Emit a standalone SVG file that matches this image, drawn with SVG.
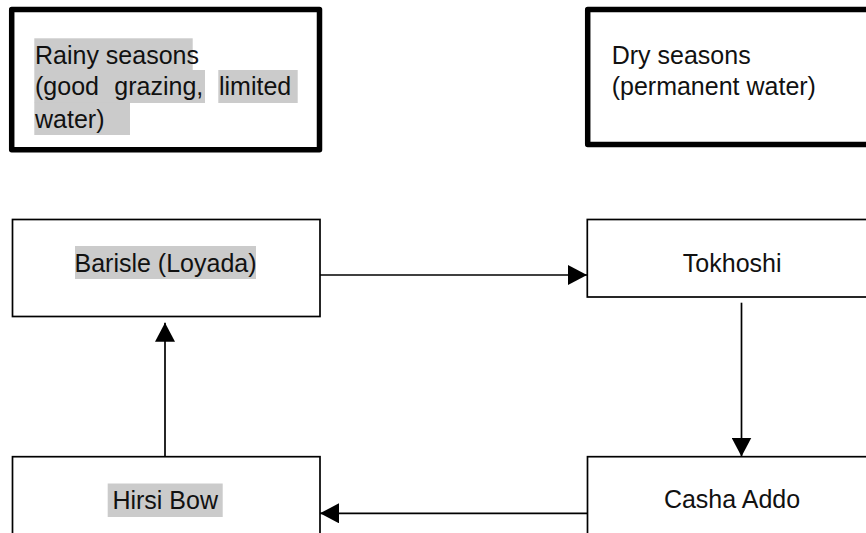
<svg xmlns="http://www.w3.org/2000/svg" width="866" height="533" viewBox="0 0 866 533">
<style>
text{font-family:"Liberation Sans",Arial,sans-serif;font-size:25px;fill:#111}
.thick{fill:#fff;stroke:#000;stroke-width:5.5;stroke-linejoin:round}
.box{fill:#fff;stroke:#000;stroke-width:1.7}
.hl{fill:#cbcbcb}
.conn{stroke:#000;stroke-width:1.7;fill:none}
</style>
<defs>
<marker id="ah" markerUnits="userSpaceOnUse" markerWidth="20" markerHeight="20" refX="19" refY="10" orient="auto">
<path d="M0,0 L19,10 L0,20 Z" fill="#000"/>
</marker>
</defs>
<rect width="866" height="533" fill="#fff"/>
<g id="rainy">
<rect class="thick" x="11.7" y="9.5" width="307.8" height="140.2"/>
<rect class="hl" x="34.3" y="38.3" width="158.4" height="31.7"/>
<rect class="hl" x="34.3" y="70" width="170.7" height="33"/>
<rect class="hl" x="218.3" y="70" width="79.4" height="33"/>
<rect class="hl" x="34.3" y="102.7" width="95.7" height="32.3"/>
<text x="35" y="64.3">Rainy seasons</text>
<text x="35" y="95">(good</text>
<text x="114.3" y="95">grazing,</text>
<text x="219" y="95">limited</text>
<text x="35" y="127.7">water)</text>
</g>
<g id="dry">
<rect class="thick" x="587.7" y="9.5" width="300" height="135"/>
<text x="611.7" y="64.3">Dry seasons</text>
<text x="611.7" y="94.5">(permanent water)</text>
</g>
<g id="barisle">
<rect class="box" x="12.5" y="219.5" width="307.5" height="97"/>
<rect class="hl" x="75" y="246" width="181" height="33"/>
<text x="165.5" y="271.7" text-anchor="middle">Barisle (Loyada)</text>
</g>
<g id="tokhoshi">
<rect class="box" x="587.3" y="219.5" width="300" height="77.5"/>
<text x="732.2" y="271.7" text-anchor="middle">Tokhoshi</text>
</g>
<g id="hirsi">
<rect class="box" x="12.5" y="456.7" width="307.5" height="100"/>
<rect class="hl" x="107.7" y="483.5" width="115" height="33.5"/>
<text x="165.2" y="509" text-anchor="middle">Hirsi Bow</text>
</g>
<g id="casha">
<rect class="box" x="587.5" y="456.7" width="300" height="100"/>
<text x="732" y="508.3" text-anchor="middle">Casha Addo</text>
</g>
<g id="connectors">
<line class="conn" x1="320" y1="275" x2="587" y2="275" marker-end="url(#ah)"/>
<line class="conn" x1="741.5" y1="302.7" x2="741.5" y2="456.5" marker-end="url(#ah)"/>
<line class="conn" x1="587.5" y1="513.3" x2="320" y2="513.3" marker-end="url(#ah)"/>
<line class="conn" x1="165" y1="456.7" x2="165" y2="322.7" marker-end="url(#ah)"/>
</g>
</svg>
